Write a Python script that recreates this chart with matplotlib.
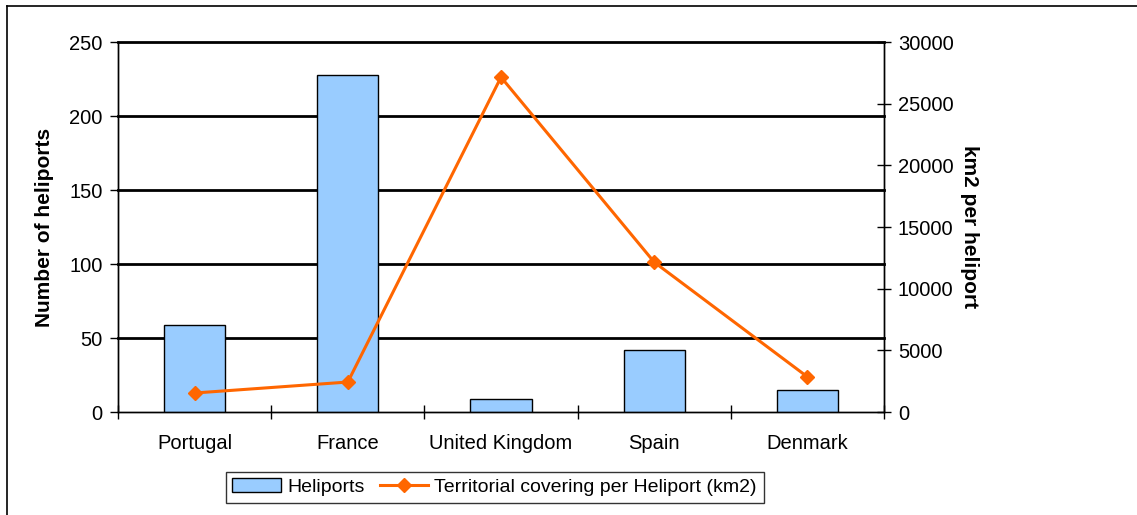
import matplotlib.pyplot as plt
from matplotlib.lines import Line2D
import numpy as np

plt.rcParams['font.family'] = ['Liberation Sans', 'DejaVu Sans']

# Heliport counts and area covered per heliport
countries = ['Portugal', 'France', 'United Kingdom', 'Spain', 'Denmark']
heliports = [59, 228, 9, 42, 15]
km2_per_heliport = [1540, 2430, 27150, 12150, 2850]

BAR_BLUE = '#99CCFF'
LINE_ORANGE = '#FF6600'
FS = 14.5

fig = plt.figure(figsize=(11.37, 5.15), dpi=100)
ax = fig.add_axes([0.1038, 0.2, 0.6737, 0.7184])
ax2 = ax.twinx()

x = np.arange(len(countries))
bars = ax.bar(x, heliports, width=0.4, color=BAR_BLUE, edgecolor='black',
              linewidth=1, zorder=3, label='Heliports')
line, = ax2.plot(x, km2_per_heliport, color=LINE_ORANGE, linewidth=2.2,
                 marker='D', markersize=7, label='Territorial covering per Heliport (km2)',
                 zorder=4)

# left axis
ax.set_xlim(-0.5, len(countries) - 0.5)
ax.set_ylim(0, 250)
ax.set_yticks(range(0, 251, 50))
for val in range(50, 251, 50):
    ax.axhline(val, color='black', linewidth=2, zorder=1, clip_on=False)
ax.tick_params(axis='y', direction='out', length=6, width=1, labelsize=FS, pad=5)
ax.set_ylabel('Number of heliports', fontsize=15, fontweight='bold')
ax.yaxis.set_label_coords(-0.084, 0.5)

# categories at centres, ticks between them
ax.set_xticks(x)
ax.set_xticklabels(countries, fontsize=FS)
ax.set_xticks(np.arange(-0.5, len(countries), 1), minor=True)
ax.tick_params(axis='x', which='major', length=0, pad=16)
ax.tick_params(axis='x', which='minor', direction='inout', length=10, width=1)

# right axis
ax2.set_ylim(0, 30000)
ax2.set_yticks(range(0, 30001, 5000))
ax2.tick_params(axis='y', direction='inout', length=10, width=1, labelsize=FS, pad=5)
ax2.set_ylabel('km2 per heliport', fontsize=15, fontweight='bold', rotation=270)
ax2.yaxis.set_label_coords(1.124, 0.5)

for a in (ax, ax2):
    a.spines['top'].set_visible(False)
    for side in ('left', 'right', 'bottom'):
        a.spines[side].set_color('black')
        a.spines[side].set_linewidth(1)
ax.set_zorder(1)
ax2.set_zorder(2)
ax2.patch.set_visible(False)

# outer frame around the chart
fig.add_artist(Line2D([0.006, 1.0], [0.988, 0.988], color='black', linewidth=1.2))
fig.add_artist(Line2D([0.006, 0.006], [0.0, 0.988], color='black', linewidth=1.2))

leg = fig.legend(handles=[bars, line], loc='center', bbox_to_anchor=(0.435, 0.054),
                 ncol=2, fontsize=14, frameon=True, fancybox=False,
                 edgecolor='black', handlelength=2.5, columnspacing=0.8,
                 handletextpad=0.3, borderpad=0.35)
leg.get_frame().set_linewidth(1)

fig.savefig('out.png', dpi=100)
